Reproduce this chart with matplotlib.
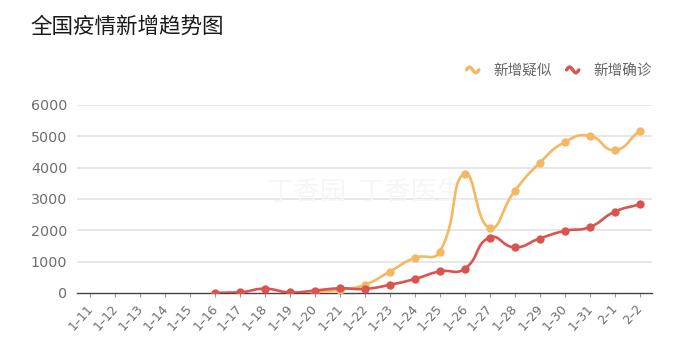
import numpy as np
import matplotlib
matplotlib.use("Agg")
import matplotlib.pyplot as plt
from matplotlib.legend_handler import HandlerBase
from matplotlib.lines import Line2D

plt.rcParams['font.family'] = ['Noto Sans CJK SC', 'DejaVu Sans']

dates = ['1–11', '1–12', '1–13', '1–14', '1–15', '1–16', '1–17', '1–18', '1–19',
         '1–20', '1–21', '1–22', '1–23', '1–24', '1–25', '1–26', '1–27', '1–28',
         '1–29', '1–30', '1–31', '2–1', '2–2']
suspected = [None, None, None, None, None, None, None, None, None,
             27, 100, 257, 680, 1118, 1309, 3806, 2077, 3248, 4148, 4812, 5019, 4562, 5173]
confirmed = [None, None, None, None, None, 4, 17, 136, 19,
             77, 149, 131, 259, 444, 688, 769, 1771, 1459, 1737, 1982, 2102, 2590, 2829]
yticks = [0, 1000, 2000, 3000, 4000, 5000, 6000]
title = '全国疫情新增趋势图'
series_names = ['新增疑似', '新增确诊']
colors = ['#F4B862', '#D9534F']

W, H = 684, 364
fig = plt.figure(figsize=(W / 100, H / 100), dpi=100)
ax = fig.add_axes([77 / W, 1 - 293 / H, (652 - 77) / W, (293 - 105) / H])

n = len(dates)
ax.set_xlim(-0.5, n - 0.5)
ax.set_ylim(0, 6000)
ax.set_yticks(yticks)
ax.set_yticklabels([str(v) for v in yticks], family='DejaVu Sans')
ax.set_xticks(range(n))
ax.set_xticklabels(dates, rotation=48, ha='right', va='center_baseline',
                   rotation_mode='anchor', family='DejaVu Sans')

for s in ['top', 'right', 'left']:
    ax.spines[s].set_visible(False)
ax.spines['bottom'].set_color('#444444')
ax.spines['bottom'].set_linewidth(1.0)
ax.spines['bottom'].set_zorder(2)
ax.tick_params(axis='y', length=0, pad=7, labelsize=10.3, labelcolor='#6E6E6E')
ax.tick_params(axis='x', length=3, width=0.8, color='#999999', pad=6,
               labelsize=9, labelcolor='#6E6E6E')
for v in yticks[1:]:
    ax.axhline(v, color='#E2E2E8', lw=1.2, zorder=0)

# watermark
ax.text(0.33, 0.535, '丁香园  丁香医生', transform=ax.transAxes, fontsize=19,
        color='#F6F6F8', ha='left', va='center', zorder=0)


def smooth_curve(xs, ys, smooth=0.5):
    pts = ax.transData.transform(np.column_stack([xs, ys]))
    m = len(pts)
    lo = pts.min(axis=0)
    hi = pts.max(axis=0)
    cps = []
    for i in range(m):
        p = pts[i]
        prev = pts[i - 1] if i > 0 else p
        nxt = pts[i + 1] if i < m - 1 else p
        v = nxt - prev
        d0 = np.hypot(*(p - prev))
        d1 = np.hypot(*(nxt - p))
        s = d0 + d1
        if s == 0:
            cps.append((p.copy(), p.copy()))
            continue
        c0 = np.clip(p - v * smooth * d0 / s, lo, hi)
        c1 = np.clip(p + v * smooth * d1 / s, lo, hi)
        cps.append((c0, c1))
    out = [pts[0]]
    t = np.linspace(0, 1, 30)[1:, None]
    for i in range(m - 1):
        p0 = pts[i]
        p3 = pts[i + 1]
        p1 = cps[i][1]
        p2 = cps[i + 1][0]
        seg = ((1 - t) ** 3) * p0 + 3 * ((1 - t) ** 2) * t * p1 + 3 * (1 - t) * t ** 2 * p2 + t ** 3 * p3
        out.extend(seg)
    out = np.array(out)
    return ax.transData.inverted().transform(out)


for k, (vals, col) in enumerate(zip([suspected, confirmed], colors)):
    idx = [i for i, v in enumerate(vals) if v is not None]
    xs = np.array(idx, dtype=float)
    ys = np.array([vals[i] for i in idx], dtype=float)
    curve = smooth_curve(xs, ys)
    ax.plot(curve[:, 0], curve[:, 1], color=col, lw=1.9, zorder=3 + k * 2,
            solid_capstyle='round')
    ax.plot(xs, ys, 'o', color=col, ms=6, mew=0, zorder=4 + k * 2)

fig.text(30 / W, 1 - 27 / H, title, fontsize=15.5, color='#1A1A1A', va='center', ha='left')


class WaveHandler(HandlerBase):
    def create_artists(self, legend, orig_handle, xdescent, ydescent, width, height,
                       fontsize, trans):
        t = np.linspace(0, 1, 40)
        x = -xdescent + t * width
        y = -ydescent + height / 2 + 0.28 * height * np.sin(2 * np.pi * t)
        ln = Line2D(x, y, color=orig_handle.get_color(), lw=2.4,
                    solid_capstyle='round', transform=trans)
        return [ln]


handles = [Line2D([], [], color=c) for c in colors]
leg = fig.legend(handles, series_names, loc='center right',
                 bbox_to_anchor=(652 / W, 1 - 71 / H), ncol=2, frameon=False,
                 fontsize=10.5, handlelength=0.85, handletextpad=1.0,
                 columnspacing=1.0, borderpad=0, borderaxespad=0,
                 handler_map={Line2D: WaveHandler()})
for txt in leg.get_texts():
    txt.set_color('#666666')

fig.savefig('out.png', dpi=100, facecolor='white')
